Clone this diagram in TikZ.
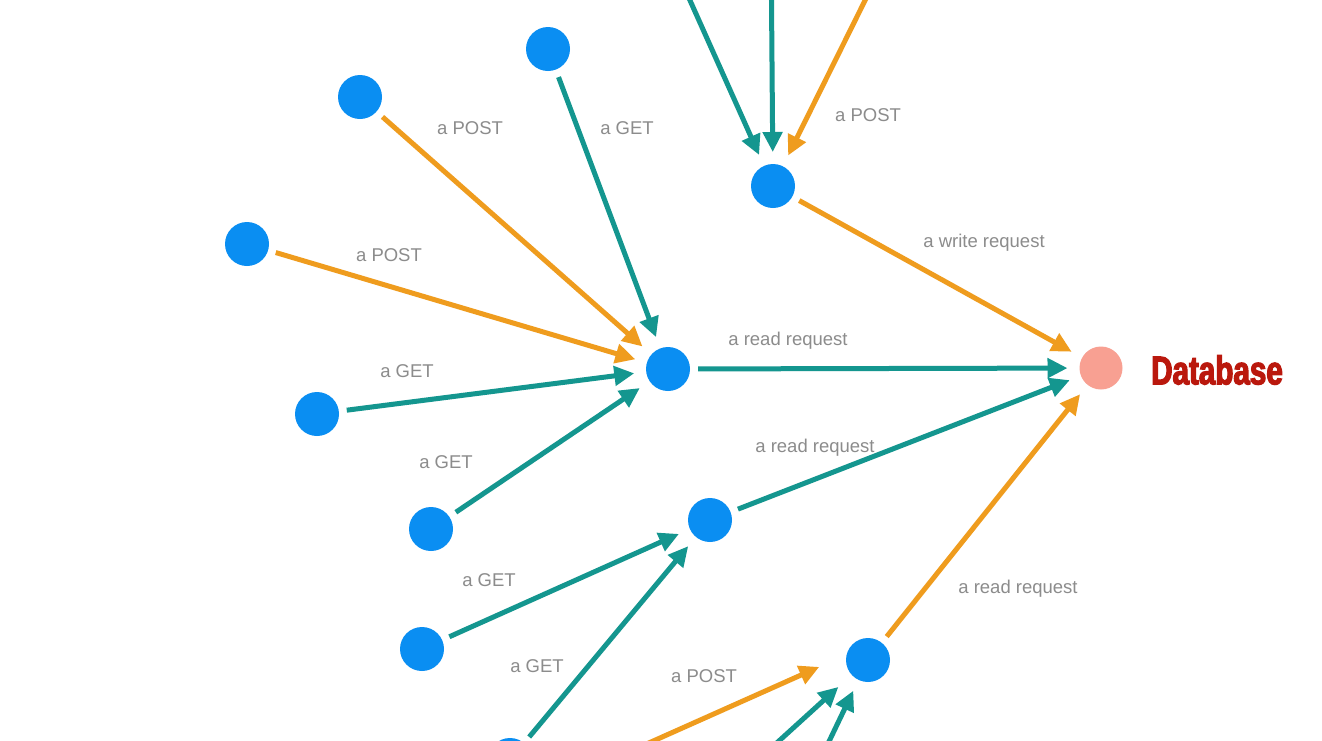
\documentclass[tikz,border=0pt]{standalone}
\usepackage{fontspec}
\setmainfont{Liberation Sans}
\newfontfamily\dbfont[FakeStretch=0.74,FakeBold=3]{Liberation Sans Bold}
\usetikzlibrary{arrows.meta}
\definecolor{nodeblue}{HTML}{0A8EF2}
\definecolor{tealc}{HTML}{14968F}
\definecolor{orangec}{HTML}{EF9C1E}
\definecolor{pinkc}{HTML}{F8A092}
\definecolor{labelgray}{HTML}{8C8C8C}
\definecolor{dbred}{HTML}{BA180D}
\tikzset{
  dot/.style={circle,fill=nodeblue,minimum size=44pt,inner sep=0pt,outer sep=0pt},
  dbdot/.style={circle,fill=pinkc,minimum size=43pt,inner sep=0pt,outer sep=0pt},
  conn/.style={line width=5pt,-{Triangle[length=20pt,width=19pt]},shorten <=8pt,shorten >=12pt},
  tealline/.style={conn,draw=tealc,color=tealc},
  orangeline/.style={conn,draw=orangec,color=orangec},
  lbl/.style={text=labelgray,font=\fontsize{18.5pt}{20pt}\selectfont,inner sep=0pt},
}
\begin{document}
\begin{tikzpicture}[x=1pt,y=-1pt]
\useasboundingbox (0,0) rectangle (1322,740);
\clip (0,0) rectangle (1322,740);
\fill[white] (0,0) rectangle (1322,740);
% nodes
\node[dot] (top) at (773,186) {};
\node[dot] (A) at (360,97) {};
\node[dot] (B) at (548,49) {};
\node[dot] (C) at (247,244) {};
\node[dot] (D) at (317,414) {};
\node[dot] (E) at (431,529) {};
\node[dot] (H1) at (668,369) {};
\node[dbdot] (DB) at (1101,368) {};
\node[dot] (H2) at (710,520) {};
\node[dot] (F) at (422,649) {};
\node[dot] (G) at (510,760) {};
\node[dot] (H3) at (868,660) {};
\node[anchor=west,inner sep=0pt,text=dbred,font=\dbfont\fontsize{40pt}{42pt}\selectfont] (DBL) at (1151,370) {Database};
% off-canvas sources
\coordinate (s1) at (663,-60);
\coordinate (s2) at (771,-60);
\coordinate (s3) at (895,-60);
\coordinate (s4) at (521,800);
\coordinate (s5) at (714,800);
\coordinate (s6) at (801,800);
% connectors
\draw[tealline,shorten <=0pt] (s1) -- (top);
\draw[tealline,shorten <=0pt] (s2) -- (top);
\draw[orangeline,shorten <=0pt] (s3) -- (top);
\draw[orangeline] (A) -- (H1);
\draw[tealline] (B) -- (H1);
\draw[orangeline] (C) -- (H1);
\draw[tealline] (D) -- (H1);
\draw[tealline] (E) -- (H1);
\draw[tealline] (H1) -- (DB);
\draw[orangeline] (top) -- (DB);
\draw[tealline] (H2) -- (DB);
\draw[orangeline] (H3) -- (DB);
\draw[tealline] (F) -- (H2);
\draw[tealline] (G) -- (H2);
\draw[orangeline,shorten <=0pt,shorten >=30pt] (s4) -- (H3.166);
\draw[tealline,shorten <=0pt,shorten >=18pt] (s5) -- (H3);
\draw[tealline,shorten <=0pt] (s6) -- (H3);
% labels
\node[lbl] (l1) at (470,128) {a POST};
\node[lbl] (l2) at (627,128) {a GET};
\node[lbl] (l3) at (389,255) {a POST};
\node[lbl] (l4) at (407,371) {a GET};
\node[lbl] (l5) at (446,462) {a GET};
\node[lbl] (l6) at (788,341) {a read request};
\node[lbl] (l7) at (984,243) {a write request};
\node[lbl] (l8) at (868,115) {a POST};
\node[lbl] (l9) at (815,448) {a read request};
\node[lbl] (l10) at (1018,589) {a read request};
\node[lbl] (l11) at (489,580) {a GET};
\node[lbl] (l12) at (537,666) {a GET};
\node[lbl] (l13) at (704,676) {a POST};
\end{tikzpicture}
\end{document}
